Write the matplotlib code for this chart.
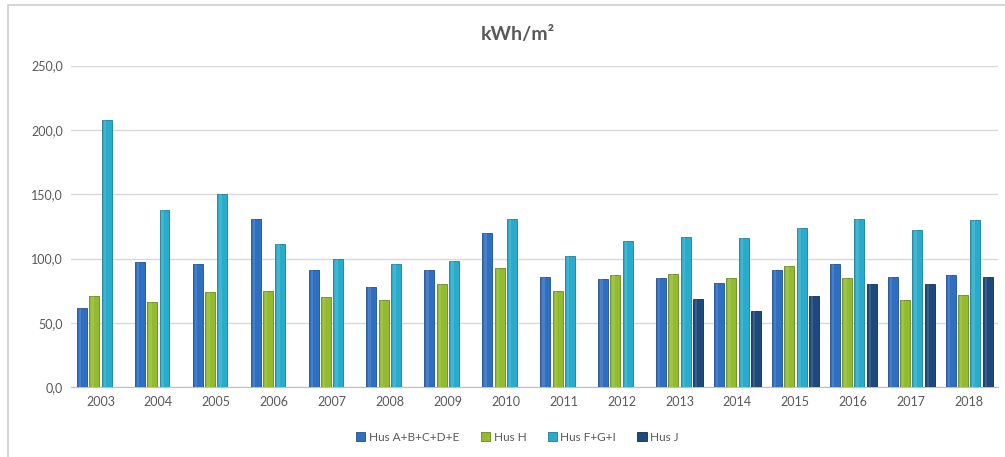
import numpy as np
import matplotlib
matplotlib.use("Agg")
import matplotlib.pyplot as plt
from matplotlib.patches import Rectangle

years = [str(y) for y in range(2003, 2019)]
hus_abcde = [62, 97, 96, 131, 91, 78, 91, 120, 86, 84, 85, 81, 91, 96, 86, 87]
hus_h = [71, 66, 74, 75, 70, 68, 80, 93, 75, 87, 88, 85, 94, 85, 68, 72]
hus_fgi = [208, 138, 150, 111, 100, 96, 98, 131, 102, 114, 117, 116, 124, 131, 122, 130]
hus_j = [np.nan] * 10 + [69, 59, 71, 80, 80, 86]

series = [
    ("Hus A+B+C+D+E", hus_abcde, "#2f6fc1", "#1f4f8f"),
    ("Hus H", hus_h, "#92bb2f", "#66861c"),
    ("Hus F+G+I", hus_fgi, "#29abcb", "#1a7f99"),
    ("Hus J", hus_j, "#1d4a7a", "#10304f"),
]

plt.rcParams['font.family'] = ['Lato', 'DejaVu Sans']

fig = plt.figure(figsize=(10.05, 4.57), dpi=100)
ax = fig.add_axes([0.0711, 0.1525, 0.922, 0.704])

x = np.arange(len(years))
slot = 0.213
width = 0.172
for i, (name, vals, col, edge) in enumerate(series):
    offs = (i - 1.5) * slot
    ax.bar(x + offs, vals, width, color=col, edgecolor=edge, linewidth=0.6,
           label=name, zorder=3)
    # light highlight stripe to hint the rounded bar look
    ax.bar(x + offs - width * 0.18, vals, width * 0.25, color="white",
           alpha=0.12, linewidth=0, zorder=4)

ax.set_xlim(-0.5, len(years) - 0.5)
ax.set_ylim(0, 250)
ax.set_yticks(np.arange(0, 251, 50))
ax.set_yticklabels([f"{v:.1f}".replace(".", ",") for v in np.arange(0, 251, 50)])
ax.set_xticks(x)
ax.set_xticklabels(years)
ax.tick_params(axis='both', length=0, labelsize=9, colors="#595959", pad=6)
ax.grid(axis='y', color="#d9d9d9", linewidth=1, zorder=0)
for s in ["top", "right", "left"]:
    ax.spines[s].set_visible(False)
ax.spines["bottom"].set_color("#bfbfbf")

fig.text(0.515, 0.925, "kWh/m²", ha="center", va="center", fontsize=14,
         fontweight="bold", color="#595959")

fig.legend(loc="center", bbox_to_anchor=(0.515, 0.043), ncol=4, frameon=False,
           fontsize=8.5, handlelength=0.8, handleheight=0.8, handletextpad=0.3,
           columnspacing=1.8, labelcolor="#595959")

fig.patches.append(Rectangle((8 / 1005, -0.01), 1.0, 1 - 5 / 457 + 0.01,
                             transform=fig.transFigure, fill=False,
                             edgecolor="#d0d0d0", linewidth=1.2))

fig.savefig("out.png", dpi=100)
